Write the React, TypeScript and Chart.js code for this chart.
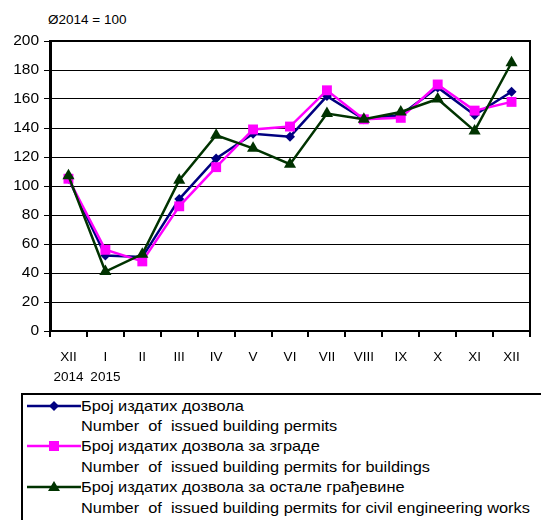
import React, { useEffect, useRef } from "react";
import { Chart, registerables } from "chart.js";

Chart.register(...registerables);

const categories: (string | string[])[] = [
  ["XII", "2014"],
  ["I", "2015"],
  "II",
  "III",
  "IV",
  "V",
  "VI",
  "VII",
  "VIII",
  "IX",
  "X",
  "XI",
  "XII",
];

const allPermits = [105, 52, 51, 91, 119, 136, 134, 162, 146, 149, 168, 149, 165];
const buildingPermits = [105, 56, 48, 86, 113, 139, 141, 166, 146, 147, 170, 152, 158];
const civilPermits = [107, 41, 53, 104, 135, 126, 115, 150, 146, 151, 160, 138, 185];

const yMin = 0;
const yMax = 200;
const yStep = 20;

const baseLabel = "Ø2014 = 100";

const legendEntries = [
  {
    sr: "Број издатих дозвола",
    en: "Number  of  issued building permits",
    color: "#000080",
    marker: "diamond",
  },
  {
    sr: "Број издатих дозвола за зграде",
    en: "Number  of  issued building permits for buildings",
    color: "#FF00FF",
    marker: "square",
  },
  {
    sr: "Број издатих дозвола за остале грађевине",
    en: "Number  of  issued building permits for civil engineering works",
    color: "#003300",
    marker: "triangle",
  },
];

const FONT = "'Liberation Sans', Arial, sans-serif";

const framePlugin = {
  id: "frame",
  afterDraw(chart: any) {
    const { ctx, chartArea } = chart;
    ctx.save();
    ctx.strokeStyle = "#000";
    ctx.lineWidth = 2;
    ctx.beginPath();
    ctx.moveTo(chartArea.left, chartArea.top);
    ctx.lineTo(chartArea.right, chartArea.top);
    ctx.lineTo(chartArea.right, chartArea.bottom);
    ctx.stroke();
    ctx.restore();
  },
};

function Marker({ kind, color }: { kind: string; color: string }) {
  let shape: React.ReactNode = null;
  if (kind === "diamond") {
    shape = <polygon points="27,5 32,10 27,15 22,10" fill={color} />;
  } else if (kind === "square") {
    shape = <rect x={22} y={5} width={10} height={10} fill={color} />;
  } else {
    shape = <polygon points="27,4 33,14 21,14" fill={color} />;
  }
  return (
    <svg width={56} height={20} style={{ position: "absolute", left: 4, top: 0 }}>
      <line x1={0} y1={10} x2={54} y2={10} stroke={color} strokeWidth={2.5} />
      {shape}
    </svg>
  );
}

export default function App() {
  const canvasRef = useRef<HTMLCanvasElement | null>(null);

  useEffect(() => {
    if (!canvasRef.current) return;
    const chart = new Chart(canvasRef.current, {
      type: "line",
      data: {
        labels: categories as any,
        datasets: [
          {
            label: legendEntries[0].sr,
            data: allPermits,
            borderColor: "#000080",
            backgroundColor: "#000080",
            borderWidth: 2.5,
            pointStyle: "rectRot",
            pointRadius: 5,
            pointBorderWidth: 0,
            tension: 0,
            order: 2,
          },
          {
            label: legendEntries[1].sr,
            data: buildingPermits,
            borderColor: "#FF00FF",
            backgroundColor: "#FF00FF",
            borderWidth: 2.5,
            pointStyle: "rect",
            pointRadius: 7,
            pointBorderWidth: 0,
            tension: 0,
            order: 1,
          },
          {
            label: legendEntries[2].sr,
            data: civilPermits,
            borderColor: "#003300",
            backgroundColor: "#003300",
            borderWidth: 2.5,
            pointStyle: "triangle",
            pointRadius: 7,
            pointBorderWidth: 0,
            tension: 0,
            order: 0,
          },
        ],
      },
      options: {
        animation: false,
        responsive: true,
        maintainAspectRatio: false,
        layout: { padding: { left: 0, top: 41, right: 11, bottom: 0 } },
        plugins: {
          legend: { display: false },
          tooltip: { enabled: false },
          title: { display: false },
        },
        scales: {
          x: {
            type: "category",
            offset: true,
            afterFit: (scale: any) => {
              scale.height = 189;
            },
            grid: {
              offset: true,
              drawOnChartArea: false,
              drawTicks: true,
              tickLength: 6,
              color: "#000",
              lineWidth: 2,
            },
            border: { display: true, color: "#000", width: 2 },
            ticks: {
              color: "#000",
              padding: 10,
              maxRotation: 0,
              autoSkip: false,
              font: { family: FONT, size: 13.5, lineHeight: 1.48 },
            },
          },
          y: {
            min: yMin,
            max: yMax,
            afterFit: (scale: any) => {
              scale.width = 50;
            },
            grid: {
              color: "#000",
              lineWidth: 1,
              drawTicks: true,
              tickLength: 6,
            },
            border: { display: true, color: "#000", width: 3 },
            ticks: {
              stepSize: yStep,
              color: "#000",
              padding: 5,
              font: { family: FONT, size: 15.5 },
            },
          },
        },
      },
      plugins: [framePlugin],
    });
    return () => chart.destroy();
  }, []);

  const lineH = 20.4;

  return (
    <div
      style={{
        position: "fixed",
        left: 0,
        top: 0,
        width: 541,
        height: 520,
        overflow: "hidden",
        background: "#fff",
        fontFamily: FONT,
      }}
    >
      <div
        style={{
          position: "absolute",
          left: 48,
          top: 12,
          fontSize: 13.5,
          color: "#000",
          whiteSpace: "nowrap",
        }}
      >
        {baseLabel}
      </div>
      <div style={{ position: "absolute", left: 0, top: 0, width: 541, height: 520 }}>
        <canvas ref={canvasRef} />
      </div>
      <div
        style={{
          position: "absolute",
          left: 21,
          top: 393,
          width: 560,
          height: 160,
          border: "2px solid #000",
          boxSizing: "border-box",
          background: "#fff",
        }}
      >
        {legendEntries.map((e, i) => (
          <div
            key={i}
            style={{
              position: "absolute",
              left: 0,
              top: 0.5 + i * lineH * 2,
              width: 560,
              height: lineH * 2,
            }}
          >
            <Marker kind={e.marker} color={e.color} />
            <div
              style={{
                position: "absolute",
                left: 58,
                top: 0,
                fontSize: 15,
                lineHeight: `${lineH}px`,
                whiteSpace: "pre",
                color: "#000",
                transform: "scaleX(1.09)",
                transformOrigin: "0 0",
              }}
            >
              {e.sr}
              {"\n"}
              {e.en}
            </div>
          </div>
        ))}
      </div>
    </div>
  );
}
